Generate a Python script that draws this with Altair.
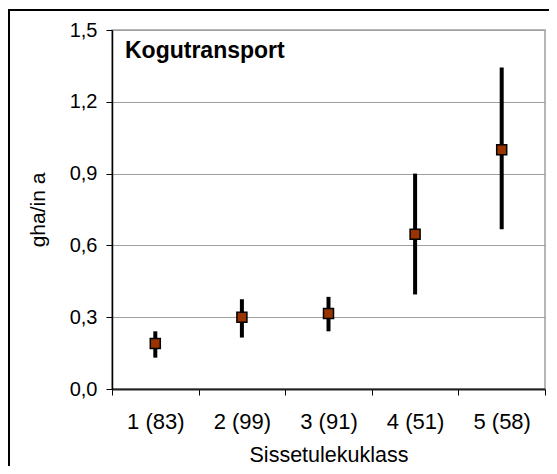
import altair as alt
import pandas as pd

categories = ["1 (83)", "2 (99)", "3 (91)", "4 (51)", "5 (58)"]
means = [0.19, 0.30, 0.315, 0.647, 1.00]
lows = [0.131, 0.215, 0.241, 0.395, 0.667]
highs = [0.241, 0.375, 0.385, 0.90, 1.343]
y_ticks = [0.0, 0.3, 0.6, 0.9, 1.2, 1.5]
title_text = ["Kogutransport"]

FONT = "Liberation Sans"

df = pd.DataFrame({"cat": categories, "mean": means, "low": lows, "high": highs})

x_enc = alt.X(
    "cat:N",
    sort=categories,
    scale=alt.Scale(type="band", paddingInner=0, paddingOuter=0),
    axis=alt.Axis(
        title="Sissetulekuklass",
        labelAngle=0,
        tickBand="extent",
        grid=False,
        domainColor="#222222",
        domainWidth=2,
        tickColor="black",
        tickWidth=1,
        tickSize=6,
        labelBaseline="alphabetic",
        labelPadding=33,
        labelFontSize=22,
        labelColor="black",
        titleFontSize=21.5,
        titleFontWeight="normal",
        titleColor="black",
        titleY=72,
        titleBaseline="alphabetic",
    ),
)

y_scale = alt.Scale(domain=[0, 1.5], nice=False, zero=True)

rules = alt.Chart(df).mark_rule(color="black", strokeWidth=4).encode(
    x=x_enc,
    y=alt.Y(
        "low:Q",
        scale=y_scale,
        axis=alt.Axis(
            values=y_ticks,
            title="gha/in a",
            grid=True,
            gridColor="#a0a0a0",
            gridWidth=1,
            domainColor="black",
            domainWidth=1.5,
            tickColor="black",
            tickSize=6,
            labelPadding=9,
            labelFontSize=20,
            labelColor="black",
            labelExpr="replace(format(datum.value, '.1f'), '.', ',')",
            titleFontSize=21,
            titleFontWeight="normal",
            titleColor="black",
            titleX=-64,
        ),
    ),
    y2="high:Q",
)

points = alt.Chart(df).mark_square(
    size=100, color="#993300", fill="#993300", stroke="black", strokeWidth=1.5, opacity=1
).encode(x=alt.X("cat:N", sort=categories), y=alt.Y("mean:Q", scale=y_scale))

title = alt.Chart(pd.DataFrame({"t": title_text})).mark_text(
    align="left", baseline="alphabetic", fontWeight="bold", fontSize=23, font=FONT, color="black"
).encode(text="t:N", x=alt.value(13), y=alt.value(28))

border = alt.Chart(pd.DataFrame({"a": [0]})).mark_rect(
    fillOpacity=0, stroke="black", strokeWidth=2
).encode(x=alt.value(-103), x2=alt.value(480), y=alt.value(-20), y2=alt.value(500))

chart = (
    alt.layer(rules, points, title, border)
    .properties(
        width=433,
        height=359,
        autosize="none",
        padding={"left": 104, "top": 22, "right": 4, "bottom": 77},
        background="white",
    )
    .configure(font=FONT)
    .configure_view(stroke="#a0a0a0", strokeWidth=1.5)
)

chart.save("out.html", embed_options={"renderer": "svg", "actions": False})
